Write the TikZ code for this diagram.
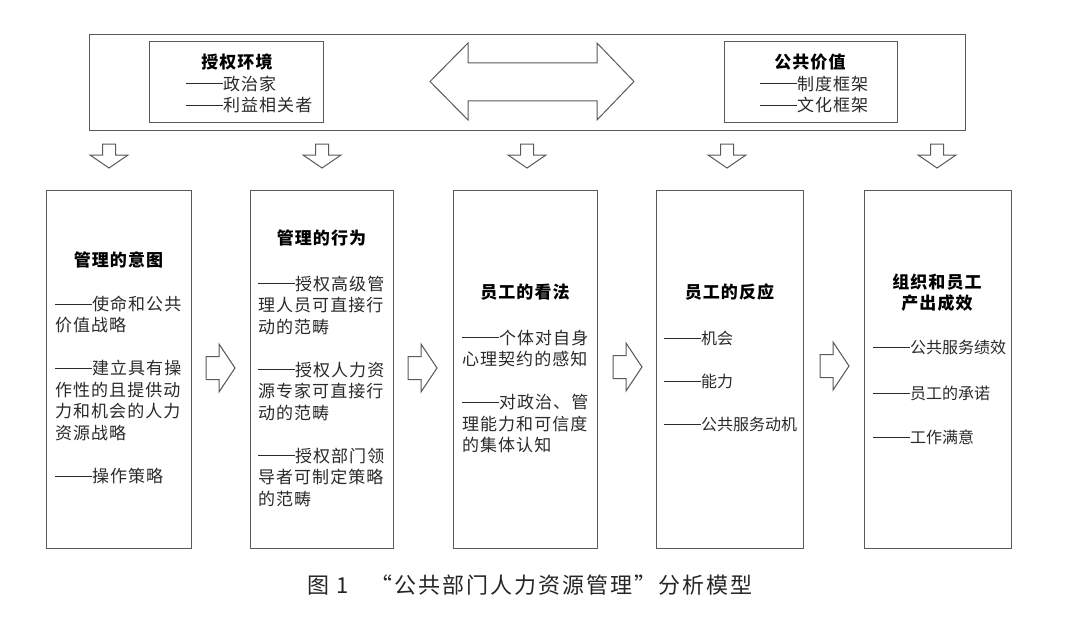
\documentclass[tikz,border=0pt]{standalone}
\usepackage{fontspec}
\setmainfont{Noto Sans CJK SC}
\usetikzlibrary{positioning}
\definecolor{linec}{HTML}{5A5A5A}
\definecolor{txtc}{HTML}{2A2A2A}
\newcommand\dsh{\rule[0.33em]{37pt}{1pt}}
\newcommand\bodyfont{\fontsize{17}{21.5}\selectfont\addfontfeatures{LetterSpace=6}}
\newcommand\tightfont{\fontsize{16}{21.5}\selectfont}
\newcommand\headfont{\fontsize{17}{21.5}\selectfont\bfseries\addfontfeatures{LetterSpace=6}}
\tikzset{
  framebox/.style={draw=linec, line width=1.1pt, anchor=north west, inner sep=0pt},
  blockarrow/.style={draw=linec, line width=1pt, fill=white, line join=miter},
  bodytext/.style={anchor=north west, inner sep=0pt, align=left, text=txtc, font=\bodyfont},
  tighttext/.style={bodytext, font=\tightfont},
  headtext/.style={inner sep=0pt, align=center, text=black, font=\headfont},
  downarrow/.pic={\path[blockarrow] (-6.5,0) -- (6.5,0) -- (6.5,11) -- (19,11) -- (0,24) -- (-19,11) -- (-6.5,11) -- cycle;},
  rightarrow/.pic={\path[blockarrow] (0,-11.5) -- (13,-11.5) -- (13,-24) -- (29,0) -- (13,24) -- (13,11.5) -- (0,11.5) -- cycle;}
}
\begin{document}
\begin{tikzpicture}[x=1pt,y=-1pt]
\useasboundingbox[fill=white] (0,0) rectangle (1080,626);
% top band
\node[framebox, minimum width=876pt, minimum height=96pt] (band) at (89,34) {};
\node[framebox, minimum width=174pt, minimum height=81pt] (env) at (149,41) {};
\node[framebox, minimum width=173pt, minimum height=81pt] (val) at (724,41) {};
\node[headtext] (envt) at (237,62) {授权环境};
\node[bodytext] (envb) at (186,75.5) {\dsh 政治家\\\dsh 利益相关者};
\node[headtext] (valt) at (810,62) {公共价值};
\node[bodytext] (valb) at (760,75.5) {\dsh 制度框架\\\dsh 文化框架};
% double arrow
\path[blockarrow] (430,81.5) -- (468,43) -- (468,63) -- (597,63) -- (597,43) -- (634,81.5) -- (597,120) -- (597,101) -- (468,101) -- (468,120) -- cycle;
% down arrows
\pic at (109,144) {downarrow};
\pic at (322,144) {downarrow};
\pic at (527,144) {downarrow};
\pic at (727,144) {downarrow};
\pic at (937,144) {downarrow};
% boxes
\node[framebox, minimum width=145pt, minimum height=358pt] (b1) at (46,190) {};
\node[framebox, minimum width=143pt, minimum height=358pt] (b2) at (250,190) {};
\node[framebox, minimum width=144pt, minimum height=358pt] (b3) at (453,190) {};
\node[framebox, minimum width=147pt, minimum height=358pt] (b4) at (656,190) {};
\node[framebox, minimum width=147pt, minimum height=358pt] (b5) at (864,190) {};
% right arrows
\pic at (206,368) {rightarrow};
\pic at (408,368) {rightarrow};
\pic at (613,367) {rightarrow};
\pic at (820,366) {rightarrow};
% box texts
\node[headtext] (t1) at (118.5,260) {管理的意图};
\node[bodytext] (x1) at (55,295.5) {\dsh 使命和公共\\价值战略\\[21.5pt]\dsh 建立具有操\\作性的且提供动\\力和机会的人力\\资源战略\\[21.5pt]\dsh 操作策略};
\node[headtext] (t2) at (321.5,238) {管理的行为};
\node[bodytext] (x2) at (258,275.5) {\dsh 授权高级管\\理人员可直接行\\动的范畴\\[21.5pt]\dsh 授权人力资\\源专家可直接行\\动的范畴\\[21.5pt]\dsh 授权部门领\\导者可制定策略\\的范畴};
\node[headtext] (t3) at (525,292) {员工的看法};
\node[bodytext] (x3) at (462,329.5) {\dsh 个体对自身\\心理契约的感知\\[21.5pt]\dsh 对政治、管\\理能力和可信度\\的集体认知};
\node[headtext] (t4) at (729.5,292) {员工的反应};
\node[tighttext] (x4) at (664,330.5) {\dsh 机会\\[21.5pt]\dsh 能力\\[21.5pt]\dsh 公共服务动机};
\node[headtext] (t5) at (937,292.5) {组织和员工\\产出成效};
\node[tighttext] (x5) at (873,340) {\dsh 公共服务绩效\\[24pt]\dsh 员工的承诺\\[23pt]\dsh 工作满意};
% caption
\node[inner sep=0pt, text=black!85, font=\fontsize{22}{24}\selectfont\addfontfeatures{LetterSpace=9}] (cap) at (530,585) {图 1\quad “公共部门人力资源管理”分析模型};
\end{tikzpicture}
\end{document}
